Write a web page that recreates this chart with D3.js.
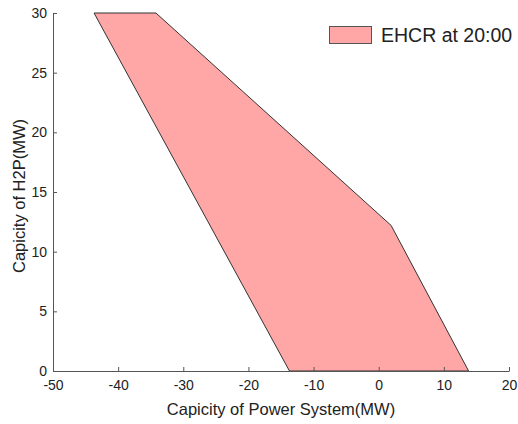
<!DOCTYPE html>
<html>
<head>
<meta charset="utf-8">
<script src="https://cdn.jsdelivr.net/npm/d3@7"></script>
<style>
body { margin: 0; background: #fff; }
text { font-family: "Liberation Sans", Arial, sans-serif; fill: #222; }
</style>
</head>
<body>
<div id="chart"></div>
<script>
// region vertices (power system MW, H2P MW)
var regionX = [-43.7, -34.2, 1.9, 13.8, -13.7];
var regionY = [30, 30, 12.2, 0, 0];
var xTicks = [-50, -40, -30, -20, -10, 0, 10, 20];
var yTicks = [0, 5, 10, 15, 20, 25, 30];
var legendLabel = "EHCR at 20:00";

var width = 518, height = 424;
var margin = {left: 53, right: 9, top: 13, bottom: 53};

var svg = d3.select("#chart").append("svg")
	.attr("width", width)
	.attr("height", height);

var x = d3.scaleLinear().domain([-50, 20]).range([margin.left, width - margin.right]);
var y = d3.scaleLinear().domain([0, 30]).range([height - margin.bottom, margin.top]);

var pts = regionX.map(function(d, i) { return [x(d), y(regionY[i])]; });

svg.append("path")
	.attr("d", d3.line()(pts) + "Z")
	.style("fill", "#ffa6a6")
	.style("stroke", "#333")
	.style("stroke-width", 1);

// plain hyphen for negatives, like the original
var fmt = function(d) { return String(d); };

// x axis, ticks inward
var xAxis = svg.append("g")
	.attr("transform", "translate(0," + y(0) + ")")
	.call(d3.axisBottom(x).tickValues(xTicks).tickFormat(fmt).tickSizeInner(-4).tickSizeOuter(0).tickPadding(9));
var yAxis = svg.append("g")
	.attr("transform", "translate(" + x(-50) + ",0)")
	.call(d3.axisLeft(y).tickValues(yTicks).tickFormat(fmt).tickSizeInner(-4).tickSizeOuter(0).tickPadding(6));

[xAxis, yAxis].forEach(function(a) {
	a.select(".domain").style("stroke", "#555");
	a.selectAll(".tick line").style("stroke", "#555");
	a.selectAll("text").style("font-size", "14px").style("font-family", "Liberation Sans, Arial, sans-serif").style("fill", "#222");
});

svg.append("text")
	.text("Capicity of Power System(MW)")
	.attr("x", (x(-50) + x(20)) / 2)
	.attr("y", 415)
	.attr("text-anchor", "middle")
	.style("font-size", "16.5px");

svg.append("text")
	.text("Capicity of H2P(MW)")
	.attr("transform", "translate(25,196) rotate(-90)")
	.attr("text-anchor", "middle")
	.style("font-size", "16.5px");

// legend
svg.append("rect")
	.attr("x", 329.5).attr("y", 26.5)
	.attr("width", 42).attr("height", 17)
	.style("fill", "#ffa6a6")
	.style("stroke", "#555");
svg.append("text")
	.text(legendLabel)
	.attr("x", 381)
	.attr("y", 42)
	.style("font-size", "19.5px");
</script>
</body>
</html>
